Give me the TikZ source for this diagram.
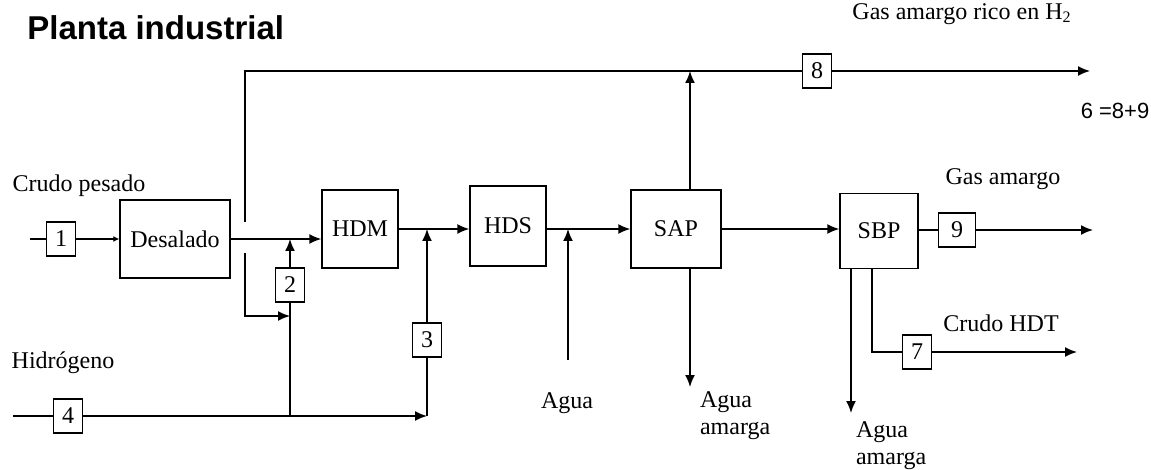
\documentclass[tikz,border=0pt]{standalone}
\usepackage{fontspec}
\setmainfont{Liberation Serif}
\newfontfamily\headfont{Liberation Sans}
\usetikzlibrary{arrows.meta, positioning}

\begin{document}
\begin{tikzpicture}[
        x=0.5pt, y=-0.5pt,
        font=\fontsize{12}{13.5}\selectfont,
        unitbox/.style={rectangle, draw, line width=0.7pt, minimum width=38pt, minimum height=39pt, inner sep=2pt},
        tagbox/.style={rectangle, draw, line width=0.6pt, minimum width=14.5pt, minimum height=17pt, inner sep=1pt},
        flow/.style={line width=0.8pt},
        arrow/.style={flow, -{Latex[length=6pt,width=5pt]}},
        smallarrow/.style={flow, -{Latex[length=3pt,width=3pt]}}
    ]
        \useasboundingbox (0,0) rectangle (1151,470);

        % Title
        \node[anchor=base west, inner sep=0, font=\headfont\bfseries\fontsize{16.5}{18}\selectfont] (title) at (27,40) {Planta industrial};

        % Units
        \node[unitbox, minimum width=55pt] (desal) at (175,239) {Desalado};
        \node[unitbox] (hdm) at (360,229) {HDM};
        \node[unitbox, minimum height=40pt] (hds) at (508,226) {HDS};
        \node[unitbox, minimum width=45pt] (sap) at (676,229) {SAP};
        \node[unitbox, minimum width=39pt, minimum height=37.5pt] (sbp) at (879,231) {SBP};

        % Stream numbers
        \node[tagbox] (s1) at (61,239) {1};
        \node[tagbox] (s2) at (290,285) {2};
        \node[tagbox] (s3) at (427,340) {3};
        \node[tagbox] (s4) at (68,416) {4};
        \node[tagbox] (s7) at (917,352) {7};
        \node[tagbox] (s8) at (817,71) {8};
        \node[tagbox, minimum width=18.5pt] (s9) at (957,230) {9};

        % Free ends
        \coordinate (crudoIn) at (30,239);
        \coordinate (h2In) at (13,416);
        \coordinate (topUp) at (245,222);
        \coordinate (topL) at (245,71);
        \coordinate (topEnd) at (1090,71);
        \coordinate (botDn) at (245,253);
        \coordinate (botL) at (245,316);
        \coordinate (h2j2) at (290,416);
        \coordinate (h2j3) at (427,416);
        \coordinate (aguaIn) at (568,360);
        \coordinate (sapOut) at (690,387);
        \coordinate (gasEnd) at (1093,230);
        \coordinate (sbpW) at (851,413);
        \coordinate (hdtBend) at (872,352);
        \coordinate (hdtEnd) at (1077,352);

        % Labels
        \node (crudoTxt) at (79,186) {Crudo pesado};
        \node (h2Txt) at (63,363) {Hidrógeno};
        \node (aguaTxt) at (567,403) {Agua};
        \node[align=left, anchor=west] (amarga1) at (693,416) {Agua\\amarga};
        \node[align=left, anchor=west] (amarga2) at (849,446) {Agua\\amarga};
        \node (gasTxt) at (1003,179) {Gas amargo};
        \node (hdtTxt) at (1001,323) {Crudo HDT};
        \node (richTxt) at (962,14) {Gas amargo rico en H\textsubscript{2}};
        \node[font=\headfont\fontsize{11}{13}\selectfont] (balTxt) at (1115,111) {6 =8+9};

        % Feed side
        \draw[flow] (crudoIn) -- (s1);
        \draw[smallarrow] (s1) -- (desal);
        \draw[arrow] (desal.east) -- (desal.east -| hdm.west);
        \draw[flow] (topUp) -- (topL) -- (s8);
        \draw[arrow] (s8) -- (topEnd);
        \draw[arrow] (botDn) -- (botL) -- (botL -| s2);

        % Hydrogen
        \draw[flow] (h2In) -- (s4);
        \draw[arrow] (s4) -- (h2j3);
        \draw[flow] (h2j2) -- (s2);
        \draw[arrow] (s2) -- (s2 |- desal.east);
        \draw[flow] (h2j3) -- (s3);
        \draw[arrow] (s3) -- (s3 |- hdm);

        % Main train
        \draw[arrow] (hdm.east) -- (hdm.east -| hds.west);
        \draw[arrow] (sap.west -| hds.east) -- (sap.west);
        \draw[arrow] (aguaIn) -- (aguaIn |- sap);
        \draw[arrow] (sapOut |- sap.north) -- (sapOut |- s8);
        \draw[arrow] (sapOut |- sap.south) -- (sapOut);
        \draw[arrow] (sap.east) -- (sap.east -| sbp.west);

        % Products
        \draw[flow] (sbp.east |- s9) -- (s9);
        \draw[arrow] (s9) -- (gasEnd);
        \draw[arrow] (sbpW |- sbp.south) -- (sbpW);
        \draw[flow] (hdtBend |- sbp.south) -- (hdtBend) -- (s7);
        \draw[arrow] (s7) -- (hdtEnd);
    \end{tikzpicture}
\end{document}
